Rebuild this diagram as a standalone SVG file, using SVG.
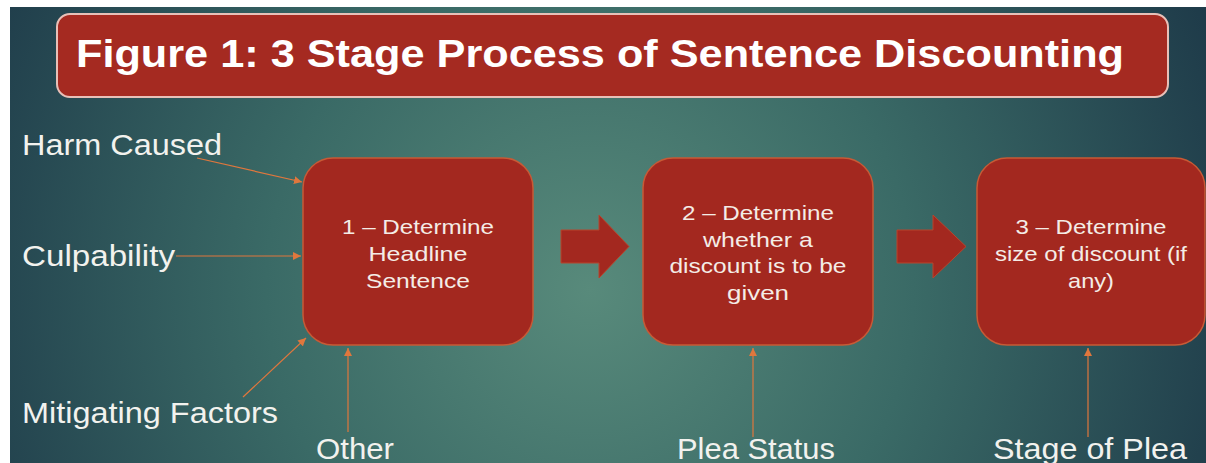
<svg xmlns="http://www.w3.org/2000/svg" width="1206" height="463" viewBox="0 0 1206 463">
  <defs>
    <radialGradient id="bg" gradientUnits="userSpaceOnUse" cx="590" cy="290" r="720">
      <stop offset="0" stop-color="#588a7b"/>
      <stop offset="0.45" stop-color="#3a6a66"/>
      <stop offset="1" stop-color="#1b3546"/>
    </radialGradient>
    <marker id="ah" markerUnits="userSpaceOnUse" markerWidth="9" markerHeight="8" refX="8" refY="4" orient="auto">
      <path d="M0,0 L8,4 L0,8 Z" fill="#e0773d"/>
    </marker>
    <style>
      .node { fill: #a3281f; stroke: #c75a36; stroke-width: 1.5; }
      .ntext { font-family: "Liberation Sans", Arial, sans-serif; font-size: 21px; fill: #f4ece6; text-anchor: middle; }
      .label { font-family: "Liberation Sans", Arial, sans-serif; font-size: 30px; fill: #f2f2ee; }
      .conn { stroke: #e0773d; stroke-width: 1.2; fill: none; marker-end: url(#ah); }
      .block { fill: #a3281f; stroke: #b8452c; stroke-width: 1; }
    </style>
  </defs>

  <rect x="0" y="0" width="1206" height="463" fill="#ffffff"/>
  <rect x="10" y="7" width="1196" height="456" fill="url(#bg)"/>

  <g id="title">
    <rect x="57" y="14" width="1111" height="83" rx="13" ry="13" fill="#a52a21" stroke="#e8c0b8" stroke-width="2"/>
    <text x="76" y="67" font-family="'Liberation Sans', Arial, sans-serif" font-weight="bold" font-size="39" fill="#ffffff" textLength="1048" lengthAdjust="spacingAndGlyphs">Figure 1: 3 Stage Process of Sentence Discounting</text>
  </g>

  <g id="label-harm"><text class="label" x="22" y="155" textLength="200" lengthAdjust="spacingAndGlyphs">Harm Caused</text></g>
  <g id="label-culpability"><text class="label" x="22" y="266" textLength="153" lengthAdjust="spacingAndGlyphs">Culpability</text></g>
  <g id="label-mitigating"><text class="label" x="22" y="423" textLength="256" lengthAdjust="spacingAndGlyphs">Mitigating Factors</text></g>
  <g id="label-other"><text class="label" x="316" y="459" textLength="78" lengthAdjust="spacingAndGlyphs">Other</text></g>
  <g id="label-plea-status"><text class="label" x="677" y="459" textLength="158" lengthAdjust="spacingAndGlyphs">Plea Status</text></g>
  <g id="label-stage-of-plea"><text class="label" x="993" y="459" textLength="194" lengthAdjust="spacingAndGlyphs">Stage of Plea</text></g>

  <g id="stage1">
    <rect class="node" x="303" y="158" width="230" height="187" rx="30" ry="30"/>
    <text class="ntext" x="418" y="234" textLength="152" lengthAdjust="spacingAndGlyphs">1 – Determine</text>
    <text class="ntext" x="418" y="261" textLength="99" lengthAdjust="spacingAndGlyphs">Headline</text>
    <text class="ntext" x="418" y="288" textLength="104" lengthAdjust="spacingAndGlyphs">Sentence</text>
  </g>

  <g id="stage2">
    <rect class="node" x="643" y="158" width="230" height="187" rx="30" ry="30"/>
    <text class="ntext" x="758" y="220" textLength="152" lengthAdjust="spacingAndGlyphs">2 – Determine</text>
    <text class="ntext" x="758" y="247" textLength="110" lengthAdjust="spacingAndGlyphs">whether a</text>
    <text class="ntext" x="758" y="273" textLength="177" lengthAdjust="spacingAndGlyphs">discount is to be</text>
    <text class="ntext" x="758" y="300" textLength="62" lengthAdjust="spacingAndGlyphs">given</text>
  </g>

  <g id="stage3">
    <rect class="node" x="977" y="158" width="228" height="187" rx="30" ry="30"/>
    <text class="ntext" x="1091" y="234" textLength="151" lengthAdjust="spacingAndGlyphs">3 – Determine</text>
    <text class="ntext" x="1091" y="261" textLength="192" lengthAdjust="spacingAndGlyphs">size of discount (if</text>
    <text class="ntext" x="1091" y="288" textLength="46" lengthAdjust="spacingAndGlyphs">any)</text>
  </g>

  <g id="connectors">
    <polygon class="block" points="561,230 599,230 599,215 629,246.5 599,278 599,263 561,263"/>
    <polygon class="block" points="897,230 933,230 933,215 966,246.5 933,278 933,263 897,263"/>
    <line class="conn" x1="197" y1="158" x2="302" y2="182"/>
    <line class="conn" x1="176" y1="256" x2="301" y2="256"/>
    <line class="conn" x1="243" y1="397" x2="306" y2="338"/>
    <line class="conn" x1="348" y1="432" x2="348" y2="348"/>
    <line class="conn" x1="753" y1="437" x2="753" y2="348"/>
    <line class="conn" x1="1088" y1="437" x2="1088" y2="348"/>
  </g>
</svg>
